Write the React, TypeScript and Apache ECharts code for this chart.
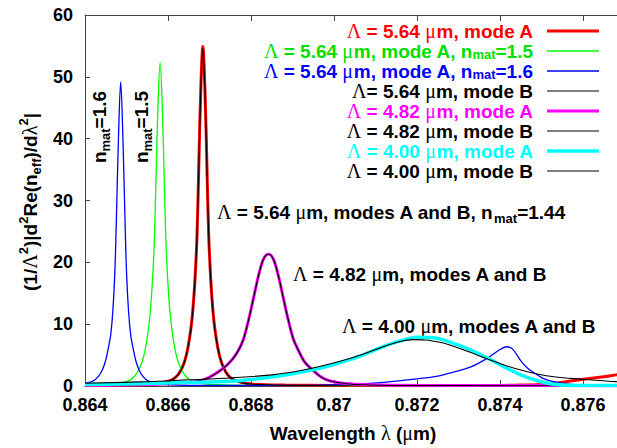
import React, { useEffect, useRef } from "react";
import * as echarts from "echarts";

// ---------- data (wavelength in µm, value) ----------
const xTicks = { min: 0.864, max: 0.878, interval: 0.002 };
const yTicks = { min: 0, max: 60, interval: 10 };

const red564A: [number, number][] = [
  [0.864, 0.05], [0.8649, 0.15], [0.86564, 0.3], [0.86592, 0.6], [0.86612, 1.1], [0.86624, 1.8],
  [0.86633, 2.8], [0.86641, 4.2], [0.86648, 6.2], [0.86655, 9.2], [0.8666, 12.4], [0.86665, 17.2],
  [0.8667, 24.5], [0.86674, 35], [0.86679, 48], [0.86684, 54.9], [0.86689, 48], [0.86694, 35],
  [0.86698, 24.5], [0.86703, 17.2], [0.86708, 12.4], [0.86713, 9.2], [0.8672, 6.2], [0.86727, 4.2],
  [0.86735, 2.8], [0.86744, 1.8], [0.86756, 1.1], [0.86776, 0.6], [0.86805, 0.3], [0.8688, 0.15],
  [0.87, 0.08], [0.872, 0.06], [0.8738, 0.08], [0.8745, 0.15], [0.875, 0.25], [0.8753, 0.4],
  [0.8756, 0.7], [0.876, 1.1], [0.8765, 1.5], [0.8768, 1.8], [0.8772, 2.2], [0.878, 2.8],
];
const green564A15: [number, number][] = [
  [0.864, 0.1], [0.86461, 0.25], [0.86489, 0.5], [0.86509, 1.0], [0.86521, 1.7], [0.8653, 2.7],
  [0.86538, 4.0], [0.86545, 5.9], [0.86552, 8.8], [0.86557, 11.8], [0.86562, 16.4], [0.86567, 23.3],
  [0.86571, 33.3], [0.86576, 45.7], [0.86581, 52.3], [0.86586, 45.7], [0.86591, 33.3], [0.86595, 23.3],
  [0.866, 16.4], [0.86605, 11.8], [0.8661, 8.8], [0.86617, 5.9], [0.86624, 4.0], [0.86632, 2.7],
  [0.86641, 1.7], [0.86653, 1.0], [0.86673, 0.5], [0.86702, 0.25], [0.8678, 0.1], [0.87, 0.05], [0.878, 0.03],
];
const blue564A16: [number, number][] = [
  [0.864, 0.45], [0.86418, 0.75], [0.86433, 1.6], [0.86443, 2.8], [0.8645, 4.2], [0.86457, 6.4],
  [0.86462, 8.3], [0.86467, 12.0], [0.86472, 18.5], [0.86476, 28], [0.86481, 41], [0.86486, 49.2],
  [0.86491, 41], [0.86496, 28], [0.865, 18.5], [0.86505, 12.0], [0.8651, 8.3], [0.86515, 6.4],
  [0.86522, 4.2], [0.86529, 2.8], [0.86539, 1.6], [0.86553, 0.8], [0.86578, 0.35], [0.8662, 0.15],
  [0.8675, 0.08], [0.869, 0.08], [0.8697, 0.15], [0.8705, 0.3], [0.8712, 0.6], [0.872, 1.15],
  [0.8725, 1.6], [0.8729, 2.3], [0.8733, 3.1], [0.8737, 4.5], [0.874, 5.9], [0.87416, 6.35],
  [0.8743, 6.0], [0.87452, 3.9], [0.87468, 2.8], [0.87484, 2.05], [0.875, 1.35], [0.87515, 0.95],
  [0.87533, 0.65], [0.8756, 0.35], [0.876, 0.15], [0.877, 0.08], [0.878, 0.05],
];
const black564B: [number, number][] = [
  [0.864, 0.03], [0.8655, 0.2], [0.86592, 0.55], [0.86612, 1.1], [0.86624, 1.8], [0.86633, 2.8],
  [0.86641, 4.2], [0.86648, 6.2], [0.86655, 9.1], [0.8666, 12.3], [0.86665, 17.1], [0.8667, 24.4],
  [0.86674, 34.8], [0.86679, 47.8], [0.86684, 54.6], [0.86689, 47.8], [0.86694, 34.8], [0.86698, 24.4],
  [0.86703, 17.1], [0.86708, 12.3], [0.86713, 9.1], [0.8672, 6.2], [0.86727, 4.2], [0.86735, 2.8],
  [0.86744, 1.8], [0.86756, 1.1], [0.86776, 0.55], [0.86805, 0.28], [0.8688, 0.12], [0.87, 0.05], [0.878, 0.03],
];
const magenta482A: [number, number][] = [
  [0.864, 0.12], [0.86577, 0.3], [0.86649, 0.55], [0.86693, 1.2], [0.86734, 2.9], [0.86755, 4.3],
  [0.8677, 5.8], [0.86782, 7.6], [0.86796, 11.2], [0.86806, 14.2], [0.86818, 17.8], [0.8683, 20.5],
  [0.86842, 21.35], [0.86854, 20.5], [0.86866, 17.8], [0.86878, 14.2], [0.86888, 11.2], [0.86902, 7.6],
  [0.86914, 5.8], [0.86929, 3.9], [0.8695, 2.5], [0.8697, 1.4], [0.86991, 0.8], [0.87035, 0.35],
  [0.87107, 0.15], [0.873, 0.08], [0.878, 0.05],
];
const black482B: [number, number][] = [
  [0.864, 0.1], [0.86577, 0.28], [0.86649, 0.55], [0.86693, 1.2], [0.86734, 2.9], [0.86755, 4.3],
  [0.8677, 5.8], [0.86782, 7.6], [0.86796, 11.2], [0.86806, 14.2], [0.86818, 17.8], [0.8683, 20.5],
  [0.86842, 21.3], [0.86854, 20.5], [0.86866, 17.8], [0.86878, 14.2], [0.86888, 11.2], [0.86902, 7.6],
  [0.86914, 5.8], [0.86929, 3.9], [0.8695, 2.5], [0.8697, 1.4], [0.86991, 0.8], [0.87035, 0.33],
  [0.87107, 0.13], [0.873, 0.06], [0.878, 0.03],
];
const cyan400A: [number, number][] = [
  [0.864, 0.25], [0.8655, 0.4], [0.8665, 0.55], [0.8675, 0.75], [0.8685, 1.45], [0.8692, 2.2],
  [0.8698, 3.1], [0.8704, 4.3], [0.8708, 5.3], [0.8712, 6.4], [0.8716, 7.3], [0.872, 7.9],
  [0.8724, 7.8], [0.8728, 7.1], [0.8733, 5.8], [0.8737, 4.5], [0.8741, 3.1], [0.8745, 1.8],
  [0.8749, 0.85], [0.8753, 0.3], [0.8758, 0.1], [0.878, 0.05],
];
const black400B: [number, number][] = [
  [0.864, 0.45], [0.8655, 0.7], [0.8665, 1.0], [0.8675, 1.3], [0.8685, 1.8], [0.8692, 2.5],
  [0.8698, 3.4], [0.8704, 4.5], [0.8708, 5.4], [0.8712, 6.4], [0.8716, 7.2], [0.8719, 7.5],
  [0.8722, 7.45], [0.8726, 7.0], [0.8729, 6.4], [0.8733, 5.4], [0.8737, 4.35], [0.8741, 3.4],
  [0.8745, 2.6], [0.8749, 1.95], [0.8753, 1.5], [0.876, 1.1], [0.8768, 0.7], [0.878, 0.45],
];

const seriesNames = [
  "Λ = 5.64 μm, mode A",
  "Λ = 5.64 μm, mode A, nmat=1.5",
  "Λ = 5.64 μm, mode A, nmat=1.6",
  "Λ= 5.64 μm, mode B",
  "Λ = 4.82 μm, mode A",
  "Λ = 4.82 μm, mode B",
  "Λ = 4.00 μm, mode A",
  "Λ = 4.00 μm, mode B",
];
const legendRich = [
  "{g|Λ}{b| = 5.64 }{g|μ}{b|m, mode A}",
  "{g|Λ}{b| = 5.64 }{g|μ}{b|m, mode A, n}{sub|mat}{b|=1.5}",
  "{g|Λ}{b| = 5.64 }{g|μ}{b|m, mode A, n}{sub|mat}{b|=1.6}",
  "{g|Λ}{b|= 5.64 }{g|μ}{b|m, mode B}",
  "{g|Λ}{b| = 4.82 }{g|μ}{b|m, mode A}",
  "{g|Λ}{b| = 4.82 }{g|μ}{b|m, mode B}",
  "{g|Λ}{b| = 4.00 }{g|μ}{b|m, mode A}",
  "{g|Λ}{b| = 4.00 }{g|μ}{b|m, mode B}",
];
const seriesData = [red564A, green564A15, blue564A16, black564B, magenta482A, black482B, cyan400A, black400B];
const seriesColors = ["#ff0000", "#00ff00", "#0000ff", "#000000", "#ff00ff", "#000000", "#00ffff", "#000000"];
const legendTextColors = ["#ff0000", "#00e000", "#0000ff", "#000000", "#ff00ff", "#000000", "#00ffff", "#000000"];
const legendLineColors = ["#ff0000", "#00ff00", "#0000ff", "#000000", "#ff00ff", "#000000", "#00ffff", "#808080"];
const seriesWidths = [3, 1.3, 1.3, 1.1, 3, 1.1, 3.5, 1.1];
const legendWidths = [3, 1.3, 1.3, 1.1, 3, 1.1, 3.5, 2];

const FONT = '"Liberation Sans", Arial, Helvetica, sans-serif';
const SERIF = '"Liberation Serif", "DejaVu Serif", serif';

function rich(fill: string, size = 19, lh = 26, subLh = 14) {
  return {
    b: { fill, fontFamily: FONT, fontWeight: "bold", fontSize: size, lineHeight: lh },
    g: { fill, fontFamily: SERIF, fontWeight: "normal", fontSize: size + 1, lineHeight: lh },
    sub: { fill, fontFamily: FONT, fontWeight: "bold", fontSize: 13, lineHeight: subLh, verticalAlign: "bottom" },
    sup: { fill, fontFamily: FONT, fontWeight: "bold", fontSize: 13, lineHeight: subLh, verticalAlign: "top" },
  };
}

export default function App() {
  const ref = useRef<HTMLDivElement>(null);
  useEffect(() => {
    document.body.style.margin = "0";
    const chart = echarts.init(ref.current!, null, { renderer: "svg" });

    const legendEls: any[] = [];
    legendRich.forEach((t, i) => {
      const yc = 31 + i * 20;
      legendEls.push({
        type: "text",
        x: 533,
        y: yc,
        style: { text: t, align: "right", verticalAlign: "middle", rich: rich(legendTextColors[i], 19, 19, 9) },
      });
      legendEls.push({
        type: "line",
        shape: { x1: 547, y1: yc, x2: 599, y2: yc },
        style: { stroke: legendLineColors[i], lineWidth: legendWidths[i] },
      });
    });

    const black = "#000";
    const annotations: any[] = [
      {
        type: "text", x: 30, y: 202, rotation: Math.PI / 2,
        style: {
          text: "{b|(1/}{g|Λ}{sup|2}{b|)|d}{sup|2}{b|Re(n}{sub|eff}{b|)/d}{g|λ}{sup|2}{b||}",
          align: "center", verticalAlign: "middle", rich: rich(black),
        },
      },
      {
        type: "text", x: 353, y: 433,
        style: { text: "{b|Wavelength }{g|λ}{b| (}{g|μ}{b|m)}", align: "center", verticalAlign: "middle", rich: rich(black) },
      },
      {
        type: "text", x: 99, y: 127, rotation: Math.PI / 2,
        style: { text: "{b|n}{sub|mat}{b|=1.6}", align: "center", verticalAlign: "middle", rich: rich(black) },
      },
      {
        type: "text", x: 141, y: 127, rotation: Math.PI / 2,
        style: { text: "{b|n}{sub|mat}{b|=1.5}", align: "center", verticalAlign: "middle", rich: rich(black) },
      },
      {
        type: "text", x: 217, y: 212,
        style: { text: "{g|Λ}{b| = 5.64 }{g|μ}{b|m, modes A and B, n}{sub|mat}{b|=1.44}", align: "left", verticalAlign: "middle", rich: rich(black) },
      },
      {
        type: "text", x: 293, y: 274,
        style: { text: "{g|Λ}{b| = 4.82 }{g|μ}{b|m, modes A and B}", align: "left", verticalAlign: "middle", rich: rich(black) },
      },
      {
        type: "text", x: 342, y: 326,
        style: { text: "{g|Λ}{b| = 4.00 }{g|μ}{b|m, modes A and B}", align: "left", verticalAlign: "middle", rich: rich(black) },
      },
    ];

    const axisLabel = { color: "#000", fontFamily: FONT, fontWeight: "bold", fontSize: 18 };
    const axisLine = { show: true, lineStyle: { color: "#444", width: 1 } };

    chart.setOption({
      animation: false,
      backgroundColor: "#fff",
      grid: { left: 85, top: 15, width: 581, height: 371, containLabel: false, outerBoundsMode: "none" },
      xAxis: [
        {
          type: "value", min: xTicks.min, max: xTicks.max, interval: xTicks.interval,
          axisLine, axisTick: { inside: true, length: 6, lineStyle: { color: "#444" } },
          axisLabel: { ...axisLabel, margin: 10, hideOverlap: false, showMaxLabel: false }, splitLine: { show: false },
        },
        {
          type: "value", position: "top", min: xTicks.min, max: xTicks.max, interval: xTicks.interval,
          axisLine, axisTick: { inside: true, length: 6, lineStyle: { color: "#444" } },
          axisLabel: { show: false }, splitLine: { show: false },
        },
      ],
      yAxis: {
        type: "value", min: yTicks.min, max: yTicks.max, interval: yTicks.interval,
        axisLine, axisTick: { inside: true, length: 5, lineStyle: { color: "#444" } },
        axisLabel: { ...axisLabel, margin: 12 }, splitLine: { show: false },
      },
      series: seriesData.map((d, i) => ({
        name: seriesNames[i],
        type: "line",
        data: d,
        showSymbol: false,
        smooth: 0.35,
        lineStyle: { color: seriesColors[i], width: seriesWidths[i] },
        itemStyle: { color: seriesColors[i] },
        emphasis: { disabled: true },
      })),
      graphic: [...legendEls, ...annotations],
    });
    return () => chart.dispose();
  }, []);
  return <div ref={ref} style={{ position: "absolute", left: 0, top: 0, width: 617, height: 448 }} />;
}
